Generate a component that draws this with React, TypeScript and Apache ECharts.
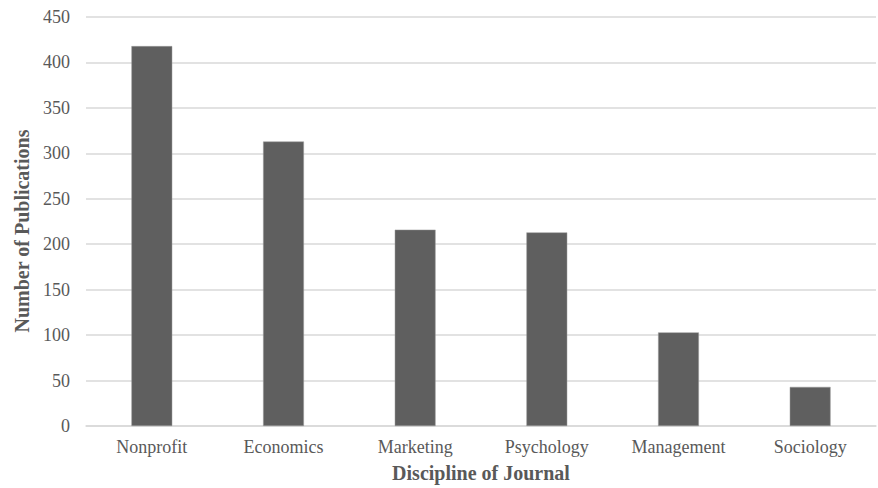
import React, { useEffect, useRef } from "react";
import * as echarts from "echarts";

const categories = ["Nonprofit", "Economics", "Marketing", "Psychology", "Management", "Sociology"];
const publications = [418, 313, 216, 213, 103, 43];
const yTicks = { min: 0, max: 450, interval: 50 };
const xTitle = "Discipline of Journal";
const yTitle = "Number of Publications";

export default function App() {
  const ref = useRef<HTMLDivElement>(null);
  useEffect(() => {
    if (!ref.current) return;
    const chart = echarts.init(ref.current, null, { renderer: "svg" });
    const font = "'Liberation Serif', 'Times New Roman', serif";
    chart.setOption({
      animation: false,
      backgroundColor: "#ffffff",
      grid: { left: 86, right: 2, top: 17, bottom: 57, containLabel: false },
      graphic: [
        {
          type: "text",
          x: 22,
          y: 231,
          rotation: Math.PI / 2,
          style: {
            text: yTitle,
            fontFamily: font,
            fontWeight: "bold",
            fontSize: 20,
            fill: "#595959",
            align: "center",
            verticalAlign: "middle",
          },
        },
      ],
      xAxis: {
        type: "category",
        data: categories,
        name: xTitle,
        nameLocation: "middle",
        nameGap: 37,
        nameTextStyle: { fontFamily: font, fontWeight: "bold", fontSize: 20, color: "#595959" },
        axisLine: { show: true, lineStyle: { color: "#d9d9d9", width: 1.5 } },
        axisTick: { show: false },
        axisLabel: { fontFamily: font, fontSize: 18, color: "#595959", margin: 12 },
      },
      yAxis: {
        type: "value",
        min: yTicks.min,
        max: yTicks.max,
        interval: yTicks.interval,
        axisLine: { show: false },
        axisTick: { show: false },
        axisLabel: { fontFamily: font, fontSize: 18, color: "#595959", margin: 16 },
        splitLine: { lineStyle: { color: "#d9d9d9", width: 1.5 } },
      },
      series: [
        {
          type: "bar",
          data: publications,
          barWidth: "31%",
          itemStyle: { color: "#5f5f5f", borderColor: "#9a9a9a", borderWidth: 0.5 },
        },
      ],
    });
    return () => chart.dispose();
  }, []);
  return <div ref={ref} style={{ width: 878, height: 488, position: "absolute", left: 0, top: 0 }} />;
}
